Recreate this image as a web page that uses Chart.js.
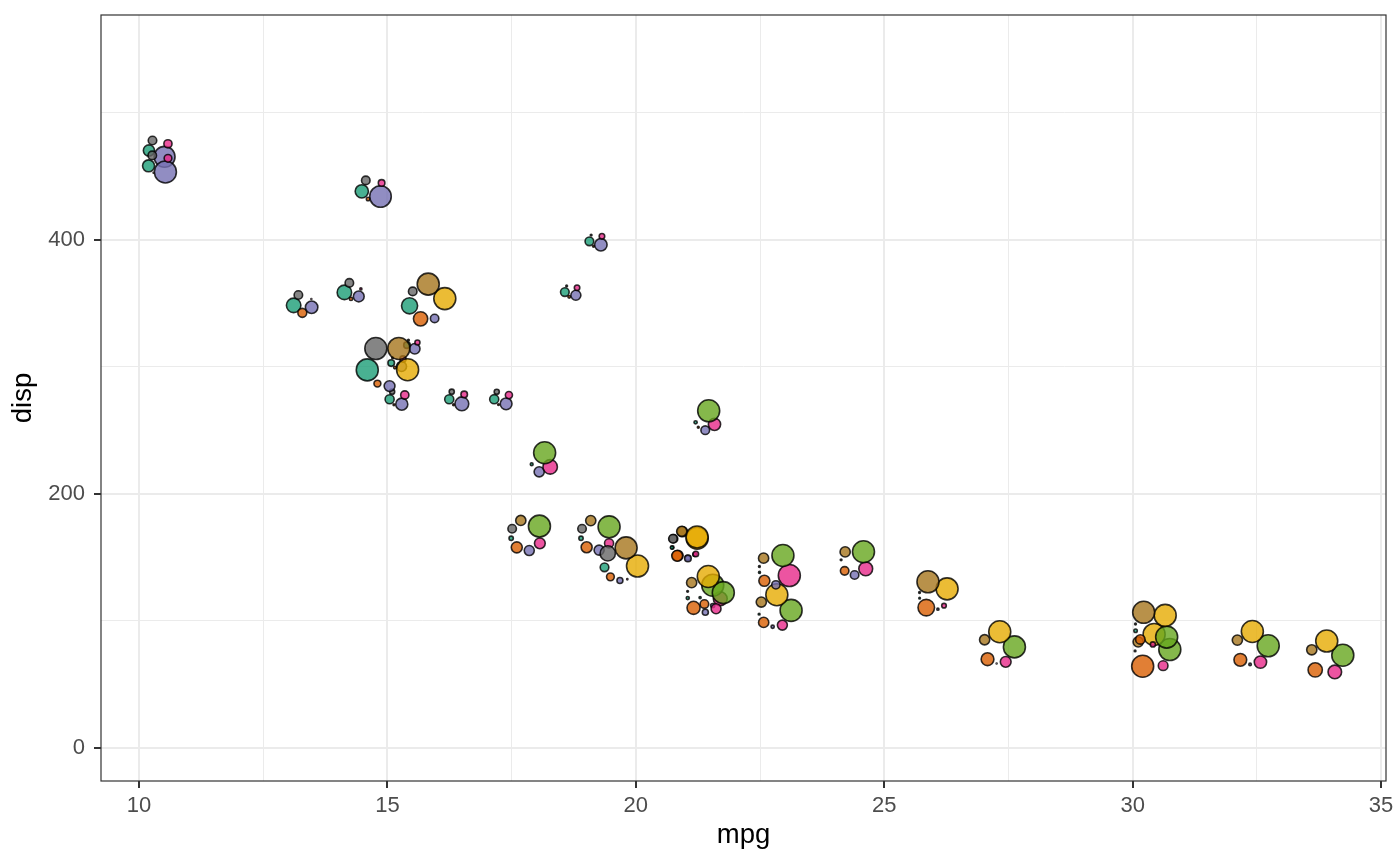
<!DOCTYPE html>
<html>
<head>
<meta charset="utf-8">
<script src="https://cdn.jsdelivr.net/npm/chart.js@4.4.1/dist/chart.umd.min.js"></script>
<style>
  html, body { margin: 0; padding: 0; background: #fff; }
  #wrap { width: 1400px; height: 866px; }
</style>
</head>
<body>
<div id="wrap"><canvas id="myChart" width="1400" height="866"></canvas></div>
<script>
// mtcars rows, in data order
const cars = ["Mazda RX4","Mazda RX4 Wag","Datsun 710","Hornet 4 Drive","Hornet Sportabout","Valiant","Duster 360","Merc 240D","Merc 230","Merc 280","Merc 280C","Merc 450SE","Merc 450SL","Merc 450SLC","Cadillac Fleetwood","Lincoln Continental","Chrysler Imperial","Fiat 128","Honda Civic","Toyota Corolla","Toyota Corona","Dodge Challenger","AMC Javelin","Camaro Z28","Pontiac Firebird","Fiat X1-9","Porsche 914-2","Lotus Europa","Ford Pantera L","Ferrari Dino","Maserati Bora","Volvo 142E"]
const mpg  = [21,21,22.8,21.4,18.7,18.1,14.3,24.4,22.8,19.2,17.8,16.4,17.3,15.2,10.4,10.4,14.7,32.4,30.4,33.9,21.5,15.5,15.2,13.3,19.2,27.3,26,30.4,15.8,19.7,15,21.4]
const disp = [160,160,108,258,360,225,360,146.7,140.8,167.6,167.6,275.8,275.8,275.8,472,460,440,78.7,75.7,71.1,120.1,318,304,350,400,79,120.3,95.1,351,145,301,121]
const hp   = [110,110,93,110,175,105,245,62,95,123,123,180,180,180,205,215,230,66,52,65,97,150,150,245,175,66,91,113,264,175,335,109]
const drat = [3.9,3.9,3.85,3.08,3.15,2.76,3.21,3.69,3.92,3.92,3.92,3.07,3.07,3.07,2.93,3,3.23,4.08,4.93,4.22,3.7,2.76,3.15,3.73,3.08,4.08,4.43,3.77,4.22,3.62,3.54,4.11]
const wt   = [2.62,2.875,2.32,3.215,3.44,3.46,3.57,3.19,3.15,3.44,3.44,4.07,3.73,3.78,5.25,5.424,5.345,2.2,1.615,1.835,2.465,3.52,3.435,3.84,3.845,1.935,2.14,1.513,3.17,2.77,3.57,2.78]
const qsec = [16.46,17.02,18.61,19.44,17.02,20.22,15.84,20,22.9,18.3,18.9,17.4,17.6,18,17.98,17.82,17.42,19.47,18.52,19.9,20.01,16.87,17.3,15.41,17.05,18.9,16.7,16.9,14.5,15.5,14.6,18.6]
const vs   = [0,0,1,1,0,1,0,1,1,1,1,0,0,0,0,0,0,1,1,1,1,0,0,0,0,1,0,1,0,0,0,1]
const am   = [1,1,1,0,0,0,0,0,0,0,0,0,0,0,0,0,0,1,1,1,0,0,0,0,0,1,1,1,1,1,1,1]
const gear = [4,4,4,3,3,3,3,4,4,4,4,3,3,3,3,3,3,4,4,4,3,3,3,3,3,4,5,5,5,5,5,4]
const carb = [4,4,1,1,2,1,4,2,2,4,4,3,3,3,4,4,4,1,2,1,1,2,2,4,2,1,2,2,4,6,8,2]

const glyphVars = [hp, drat, wt, qsec, vs, am, gear, carb]
const glyphColors = ["#1B9E77","#D95F02","#7570B3","#E7298A","#66A61E","#E6AB02","#A6761D","#666666"]

const xMajor = [10,15,20,25,30,35]
const xMinor = [12.5,17.5,22.5,27.5,32.5]
const yMajor = [0,200,400]
const yMinor = [100,300,500]

const hexA = (h, a) => {
  const n = parseInt(h.slice(1), 16)
  return `rgba(${n >> 16},${(n >> 8) & 255},${n & 255},${a})`
}

// min-max scaling of each glyph variable
const scaled = glyphVars.map(v => {
  const lo = Math.min(...v), hi = Math.max(...v)
  return v.map(d => (d - lo) / (hi - lo))
})

const BW = 1.6
const RMAX = 11.8           // outer radius for a scaled value of 1
const GAP = 1.8             // every slot on the ring keeps this much room, even when empty
const START = 192 * Math.PI / 180

const ctx = document.getElementById('myChart').getContext('2d')

const panelBorder = {
  id: 'panelBorder',
  afterDraw(chart) {
    const a = chart.chartArea, c = chart.ctx
    c.save()
    c.strokeStyle = '#333333'
    c.lineWidth = 1.2
    c.strokeRect(a.left, a.top, a.right - a.left, a.bottom - a.top)
    c.restore()
  }
}

const isMajor = (list, v) => list.some(m => Math.abs(m - v) < 1e-9)

const chart = new Chart(ctx, {
  type: 'bubble',
  data: {
    datasets: [{
      data: [],
      backgroundColor: c => c.raw ? c.raw.fill : 'transparent',
      borderColor: 'rgba(0,0,0,0.8)',
      borderWidth: BW,
      hoverBorderWidth: BW
    }]
  },
  options: {
    responsive: false,
    devicePixelRatio: 1,
    animation: false,
    events: [],
    layout: { padding: { top: 15, right: 14, left: 0, bottom: 0 } },
    plugins: { legend: { display: false }, tooltip: { enabled: false } },
    scales: {
      x: {
        type: 'linear',
        min: 9.235,
        max: 35.1,
        afterBuildTicks: s => { s.ticks = xMajor.concat(xMinor).sort((a, b) => a - b).map(v => ({ value: v })) },
        afterFit: s => { s.height = 85; s.paddingLeft = 0; s.paddingRight = 0 },
        ticks: {
          autoSkip: false,
          maxRotation: 0,
          padding: 5,
          color: '#4D4D4D',
          font: { family: 'Liberation Sans', size: 22 },
          callback: v => isMajor(xMajor, v) ? String(v) : ''
        },
        grid: {
          color: '#EBEBEB',
          lineWidth: c => isMajor(xMajor, c.tick.value) ? 2 : 1,
          tickLength: 7,
          tickWidth: 2,
          tickColor: c => isMajor(xMajor, c.tick.value) ? '#333333' : 'rgba(0,0,0,0)'
        },
        border: { display: false },
        title: {
          display: true,
          text: 'mpg',
          color: '#000000',
          font: { family: 'Liberation Sans', size: 27.5 },
          padding: { top: 0, bottom: 14 }
        }
      },
      y: {
        type: 'linear',
        min: -26,
        max: 577,
        afterBuildTicks: s => { s.ticks = yMajor.concat(yMinor).sort((a, b) => a - b).map(v => ({ value: v })) },
        afterFit: s => { s.width = 101; s.paddingTop = 0; s.paddingBottom = 0 },
        ticks: {
          autoSkip: false,
          padding: 9,
          color: '#4D4D4D',
          font: { family: 'Liberation Sans', size: 22 },
          callback: v => isMajor(yMajor, v) ? String(v) : ''
        },
        grid: {
          color: '#EBEBEB',
          lineWidth: c => isMajor(yMajor, c.tick.value) ? 2 : 1,
          tickLength: 7,
          tickWidth: 2,
          tickColor: c => isMajor(yMajor, c.tick.value) ? '#333333' : 'rgba(0,0,0,0)'
        },
        border: { display: false },
        title: {
          display: true,
          text: 'disp',
          color: '#000000',
          font: { family: 'Liberation Sans', size: 27.5 },
          padding: { top: 7, bottom: 0 }
        }
      }
    }
  },
  plugins: [panelBorder]
})

// ring of circles round each (mpg, disp); size grows with the scaled value
const sx = chart.scales.x, sy = chart.scales.y
const pxX = Math.abs(sx.getPixelForValue(1) - sx.getPixelForValue(0))
const pxY = Math.abs(sy.getPixelForValue(1) - sy.getPixelForValue(0))

const points = []
cars.forEach((car, i) => {
  const outer = scaled.map(s => RMAX * s[i])
  const slot = outer.map(o => o + GAP)
  const sumOuter = outer.reduce((a, b) => a + b, 0)
  const sumSlot = slot.reduce((a, b) => a + b, 0)
  const R = 1.12 * sumOuter / Math.PI
  let ang = START
  outer.forEach((o, k) => {
    if (k > 0) ang += (slot[k - 1] + slot[k]) / sumSlot * Math.PI
    const r = o - BW / 2
    if (r < 0.3) return
    points.push({
      x: mpg[i] + R * Math.cos(ang) / pxX,
      y: disp[i] + R * Math.sin(ang) / pxY,
      r: r,
      fill: hexA(glyphColors[k], 0.8)
    })
  })
})

chart.data.datasets[0].data = points
chart.update('none')
</script>
</body>
</html>
